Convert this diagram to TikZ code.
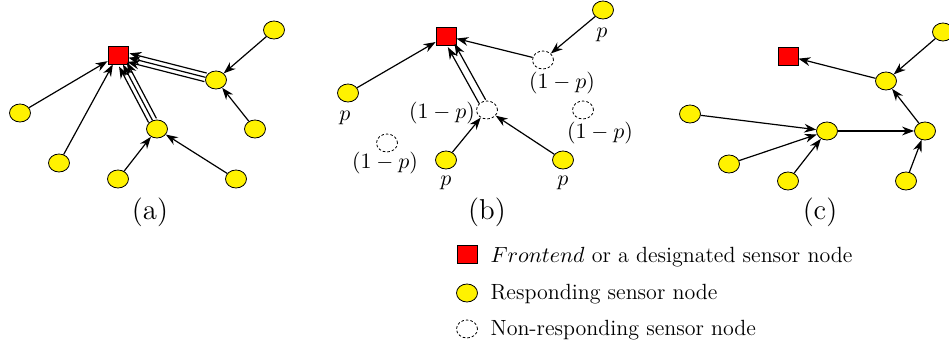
\documentclass[tikz,border=0pt]{standalone}
\usepackage{amsmath}
\usetikzlibrary{arrows.meta, shapes.geometric}

\begin{document}
\begin{tikzpicture}[x=0.5pt, y=-0.5pt, ->, >={Stealth[length=6pt,width=4.4pt]}, semithick,
  sink/.style={draw, thin, fill=red, minimum width=10pt, minimum height=9pt, inner sep=0pt},
  resp/.style={ellipse, draw, thin, fill=yellow, minimum width=10.5pt, minimum height=9pt, inner sep=0pt},
  nonresp/.style={ellipse, draw, thin, dash pattern=on 1.3pt off 1pt, minimum width=10.5pt, minimum height=9pt, inner sep=0pt},
  prob/.style={font=\fontsize{11}{13}\selectfont},
  panel/.style={font=\Large},
  legend/.style={anchor=west, inner sep=0pt, font=\fontsize{11}{13}\selectfont}]
  \useasboundingbox (0,0) rectangle (949,347);

  % (a) all nodes respond
  \node[sink] (sqA) at (118,55) {};
  \node[resp] (tA) at (274,30) {};
  \node[resp] (hA1) at (216,80) {};
  \node[resp] (rA) at (255,129) {};
  \node[resp] (lA) at (20,113) {};
  \node[resp] (llA) at (59,163) {};
  \node[resp] (hA2) at (157,129) {};
  \node[resp] (bA) at (118,179) {};
  \node[resp] (brA) at (236,179) {};
  \path (tA) edge (hA1)
        (rA) edge (hA1)
        (hA1) edge[transform canvas={shift={(1.1,-4.3)}}] (sqA)
        (hA1) edge (sqA)
        (hA1) edge[transform canvas={shift={(-1.1,4.3)}}] (sqA)
        (lA) edge (sqA)
        (llA) edge (sqA)
        (hA2) edge[transform canvas={shift={(3.9,-2.1)}}] (sqA)
        (hA2) edge (sqA)
        (hA2) edge[transform canvas={shift={(-3.9,2.1)}}] (sqA)
        (bA) edge (hA2)
        (brA) edge (hA2);
  \node[panel] (capA) at (150,212) {(a)};

  % (b) some nodes do not respond
  \node[sink] (sqB) at (446,36) {};
  \node[resp] (tB) at (603,10) {};
  \node[nonresp] (uB) at (543,60) {};
  \node[resp] (lB) at (348,93) {};
  \node[nonresp] (hB) at (487,110) {};
  \node[nonresp] (rB) at (583,110) {};
  \node[nonresp] (llB) at (387,143) {};
  \node[resp] (bB) at (446,160) {};
  \node[resp] (brB) at (563,160) {};
  \node[prob] at (602,35) {$p$};
  \node[prob] at (562,83) {$(1-p)$};
  \node[prob] at (345,118) {$p$};
  \node[prob] at (442,113) {$(1-p)$};
  \node[prob] at (600,133) {$(1-p)$};
  \node[prob] at (385,163) {$(1-p)$};
  \node[prob] at (446,183) {$p$};
  \node[prob] at (563,183) {$p$};
  \path (tB) edge (uB)
        (uB) edge (sqB)
        (lB) edge (sqB)
        (hB) edge[transform canvas={shift={(3.3,-1.8)}}] (sqB)
        (hB) edge[transform canvas={shift={(-3.3,1.8)}}] (sqB)
        (bB) edge (hB)
        (brB) edge (hB);
  \node[panel] (capB) at (487,212) {(b)};

  % (c) tree
  \node[sink] (sqC) at (788,56) {};
  \node[resp] (tC) at (943,32) {};
  \node[resp] (uC) at (886,81) {};
  \node[resp] (rC) at (925,131) {};
  \node[resp] (hC) at (827,131) {};
  \node[resp] (lC) at (690,114) {};
  \node[resp] (llC) at (729,164) {};
  \node[resp] (bC) at (788,181) {};
  \node[resp] (brC) at (906,181) {};
  \path (tC) edge (uC)
        (uC) edge (sqC)
        (rC) edge (uC)
        (hC) edge (rC)
        (brC) edge (rC)
        (lC) edge (hC)
        (llC) edge (hC)
        (bC) edge (hC);
  \node[panel] (capC) at (820,212) {(c)};

  % legend
  \node[sink] (keySink) at (467,254) {};
  \node[resp] (keyResp) at (467,293) {};
  \node[nonresp] (keyNon) at (467,329) {};
  \node[legend] at (490,257) {$Frontend$ or a designated sensor node};
  \node[legend] at (490,294) {Responding sensor node};
  \node[legend] at (490,330) {Non-responding sensor node};
\end{tikzpicture}
\end{document}
